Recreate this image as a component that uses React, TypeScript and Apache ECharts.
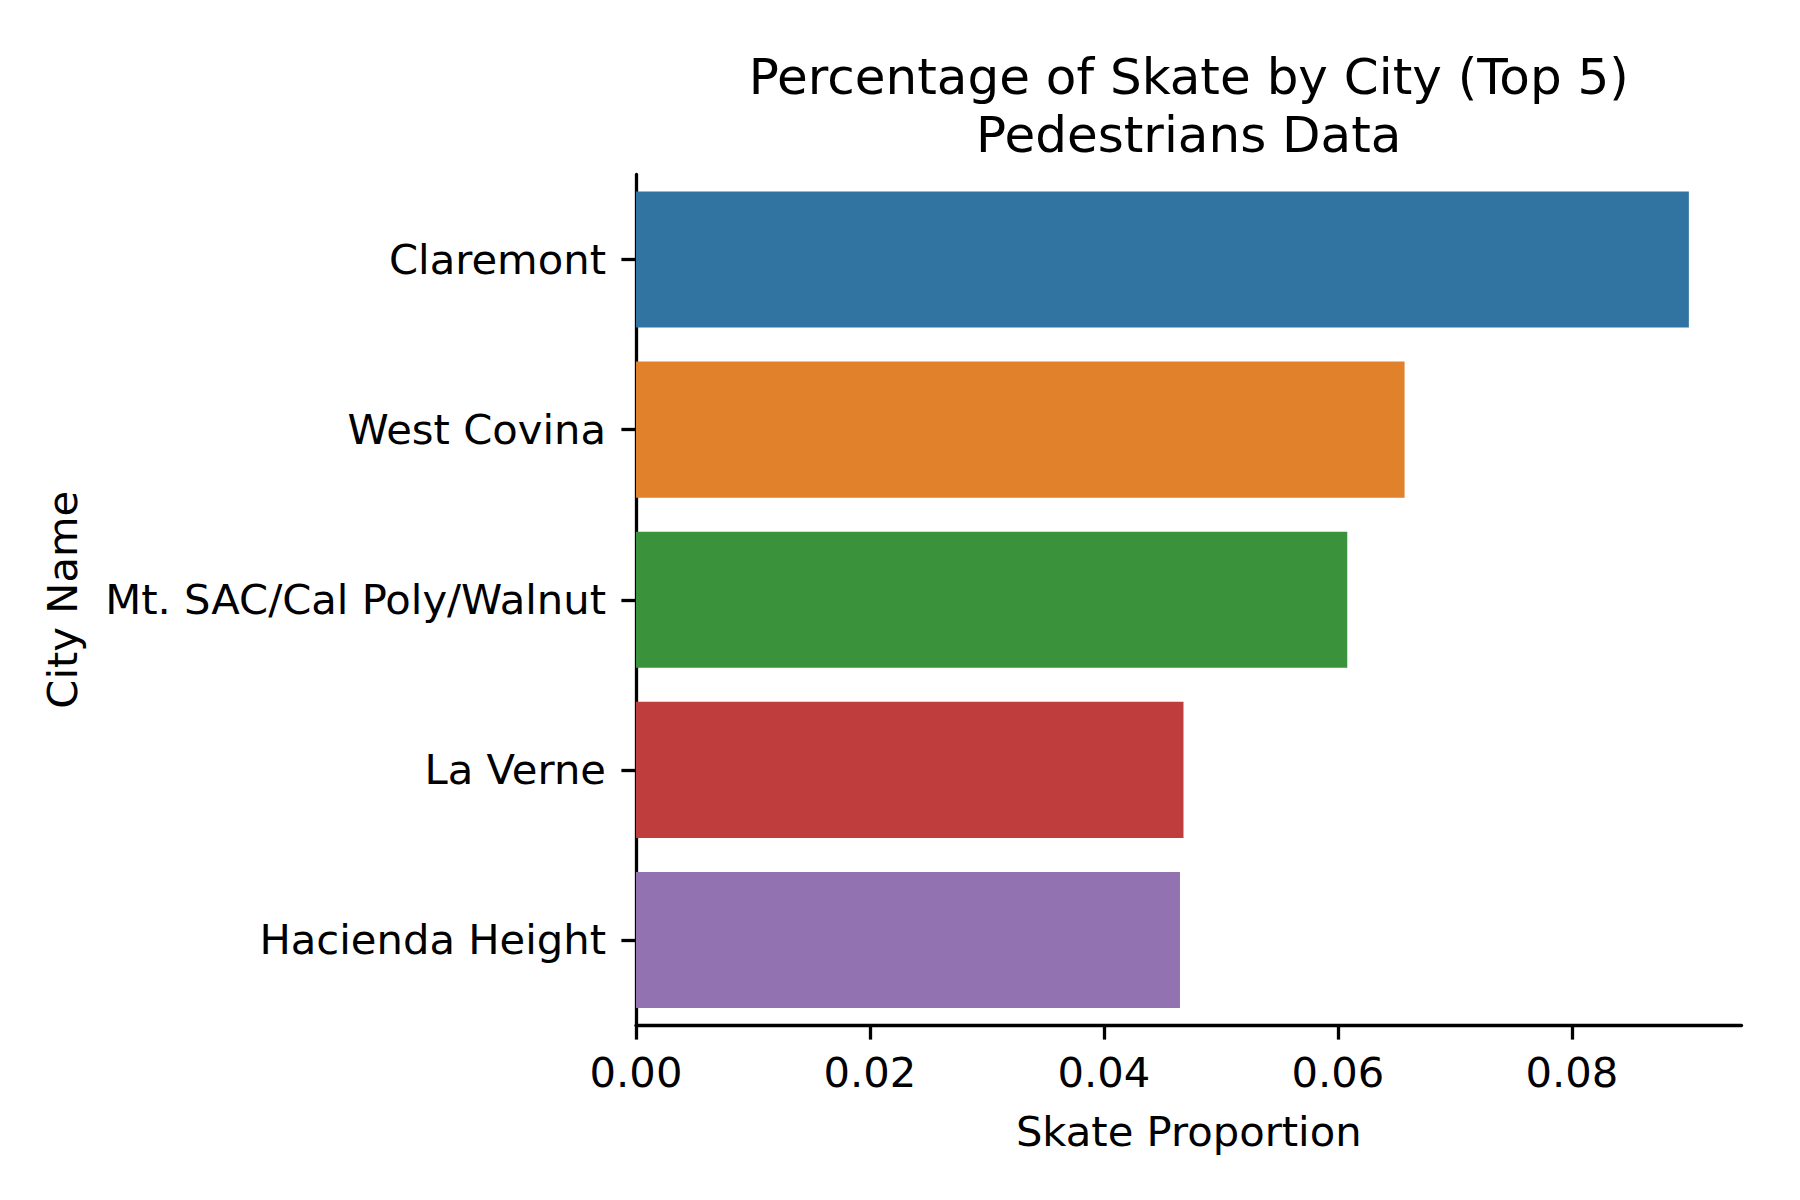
import React, { useEffect, useRef } from "react";
import * as echarts from "echarts";

const categories = ["Claremont", "West Covina", "Mt. SAC/Cal Poly/Walnut", "La Verne", "Hacienda Height"];
const values = [0.0900, 0.0657, 0.0608, 0.0468, 0.0465];
const barColors = ["#3274a1", "#e1812c", "#3a923a", "#c03d3e", "#9372b2"];
const xTicks = [0, 0.02, 0.04, 0.06, 0.08];
const xMax = 0.0945;
const titleText = "Percentage of Skate by City (Top 5)\nPedestrians Data";
const xName = "Skate Proportion";
const yName = "City Name";

const FONT = "DejaVu Sans";

export default function App() {
  const ref = useRef<HTMLDivElement>(null);
  useEffect(() => {
    if (!ref.current) return;
    const chart = echarts.init(ref.current, undefined, { renderer: "svg" });
    const gridLeft = 636;
    const gridRight = 1741.5;
    chart.setOption({
      animation: false,
      backgroundColor: "#ffffff",
      title: {
        text: titleText,
        left: (gridLeft + gridRight) / 2,
        top: 48,
        textAlign: "center",
        padding: 0,
        textStyle: { fontFamily: FONT, fontSize: 50, fontWeight: "normal", color: "#000", lineHeight: 58 },
      },
      grid: { left: gridLeft, right: 1800 - gridRight, top: 174.5, bottom: 175, containLabel: false },
      xAxis: {
        type: "value",
        min: 0,
        max: xMax,
        interval: 0.02,
        name: xName,
        nameLocation: "middle",
        nameGap: 85,
        nameTextStyle: { fontFamily: FONT, fontSize: 41.7, color: "#000", lineHeight: 42 },
        axisLine: { show: true, lineStyle: { color: "#000", width: 3.3 } },
        axisTick: { show: true, length: 14.6, lineStyle: { color: "#000", width: 3.3 }, customValues: xTicks },
        axisLabel: {
          fontFamily: FONT,
          fontSize: 41.7,
          color: "#000",
          margin: 26,
          customValues: xTicks,
          formatter: (v: number) => v.toFixed(2),
        },
        splitLine: { show: false },
      },
      yAxis: {
        type: "category",
        data: categories,
        inverse: true,
        name: yName,
        nameLocation: "middle",
        nameGap: 553,
        nameRotate: 90,
        nameTextStyle: { fontFamily: FONT, fontSize: 41.7, color: "#000", lineHeight: 42 },
        axisLine: { show: true, lineStyle: { color: "#000", width: 3.3 } },
        axisTick: { show: true, alignWithLabel: true, length: 14.6, lineStyle: { color: "#000", width: 3.3 } },
        axisLabel: { fontFamily: FONT, fontSize: 41.7, color: "#000", margin: 30, padding: [6, 0, 0, 0] },
        splitLine: { show: false },
      },
      series: [
        {
          type: "bar",
          barCategoryGap: "20%",
          data: values.map((v, i) => ({ value: v, itemStyle: { color: barColors[i] } })),
        },
      ],
    });
    return () => chart.dispose();
  }, []);
  return <div ref={ref} style={{ position: "absolute", left: 0, top: 0, width: 1800, height: 1200 }} />;
}
